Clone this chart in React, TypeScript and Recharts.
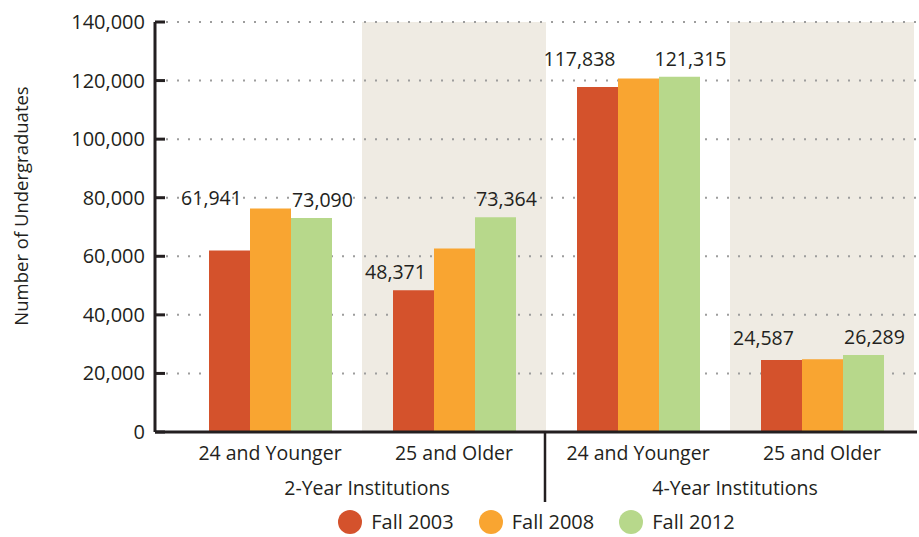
import React from "react";
import {
  BarChart,
  Bar,
  XAxis,
  YAxis,
  CartesianGrid,
  ReferenceArea,
  LabelList,
} from "recharts";

const institutionGroups = ["2-Year Institutions", "4-Year Institutions"];
const ageGroups = ["24 and Younger", "25 and Older"];
const seriesNames = ["Fall 2003", "Fall 2008", "Fall 2012"];
const fall2003 = [61941, 48371, 117838, 24587];
const fall2008 = [76300, 62700, 120700, 24800];
const fall2012 = [73090, 73364, 121315, 26289];
const yTicks = [0, 20000, 40000, 60000, 80000, 100000, 120000, 140000];

const COLORS = ["#d4522c", "#f9a531", "#b7d88b"];
const SHADE = "#efebe3";
const INK = "#231f20";
const FONT = '"Open Sans", "Noto Sans", sans-serif';
// hand nudges so the red labels sit where the original put them
const redLabelLift = [34, 0, 10, 4];

const data = institutionGroups.flatMap((group, gi) =>
  ageGroups.map((age, ai) => {
    const i = gi * 2 + ai;
    return {
      key: `${group}|${age}`,
      group,
      age,
      groupIndex: gi,
      ageIndex: ai,
      f2003: fall2003[i],
      f2008: fall2008[i],
      f2012: fall2012[i],
    };
  })
);

const fmt = (v: number) => v.toLocaleString("en-US");

function YTick(props: any) {
  const { x, y, payload } = props;
  return (
    <g>
      <line x1={x} x2={x + 10} y1={y} y2={y} stroke={INK} strokeWidth={3} />
      <text x={x - 10} y={y} dy="0.35em" textAnchor="end" fontSize={20} fill={INK}>
        {fmt(payload.value)}
      </text>
    </g>
  );
}

function XTick(props: any) {
  const { x, y, payload } = props;
  const row = data.find((d) => d.key === payload.value);
  if (!row) return null;
  const half = payload.offset || 92;
  return (
    <g>
      <text x={x} y={y + 21} dy="0.35em" textAnchor="middle" fontSize={19.5} fill={INK}>
        {row.age}
      </text>
      {row.ageIndex === 0 && (
        <text x={x + half + 5} y={y + 56} dy="0.35em" textAnchor="middle" fontSize={19.5} fill={INK}>
          {row.group}
        </text>
      )}
      {row.ageIndex === 0 && row.groupIndex > 0 && (
        <line x1={x - half - 1} x2={x - half - 1} y1={y} y2={y + 70} stroke={INK} strokeWidth={2.5} />
      )}
    </g>
  );
}

const makeLabel = (dx: number, lift: number[] | null) => (props: any) => {
  const { x, y, width, value, index } = props;
  const extra = lift ? lift[index] : 0;
  return (
    <text
      x={x + width / 2 + dx}
      y={y - 18 - extra}
      dy="0.35em"
      textAnchor="middle"
      fontSize={19.5}
      fill={INK}
    >
      {fmt(value)}
    </text>
  );
};

export default function App() {
  return (
    <div style={{ position: "absolute", left: 0, top: 0, width: 919, height: 537, fontFamily: FONT, background: "#fff" }}>
      <BarChart
        width={919}
        height={537}
        data={data}
        margin={{ top: 22, right: 2, left: 0, bottom: 25 }}
        barGap={0}
      >
        {data
          .filter((d) => d.ageIndex === 1)
          .map((d) => (
            <ReferenceArea
              key={d.key}
              x1={d.key}
              x2={d.key}
              y1={0}
              y2={140000}
              fill={SHADE}
              fillOpacity={1}
              stroke="none"
              ifOverflow="visible"
              zIndex={-150}
            />
          ))}
        <CartesianGrid
          vertical={false}
          stroke="#9d9d9d"
          strokeWidth={2}
          strokeDasharray="2 9"
        />
        <XAxis
          dataKey="key"
          interval={0}
          tick={<XTick />}
          tickLine={false}
          tickSize={0}
          tickMargin={0}
          height={80}
          padding={{ left: 23, right: 3 }}
          axisLine={{ stroke: INK, strokeWidth: 3 }}
        />
        <YAxis
          width={155}
          domain={[0, 140000]}
          ticks={yTicks}
          interval={0}
          tick={<YTick />}
          tickLine={false}
          tickSize={0}
          tickMargin={0}
          axisLine={{ stroke: INK, strokeWidth: 3 }}
          label={{
            content: (p: any) => {
              const vb = p.viewBox || { x: 0, y: 22 };
              const cx = vb.x + 22;
              const cy = vb.y + 184;
              return (
                <text
                  x={cx}
                  y={cy}
                  transform={`rotate(-90 ${cx} ${cy})`}
                  textAnchor="middle"
                  dy="0.35em"
                  fontSize={18.5}
                  fill={INK}
                >
                  Number of Undergraduates
                </text>
              );
            },
          }}
        />
        <Bar dataKey="f2003" name={seriesNames[0]} fill={COLORS[0]} barSize={41} isAnimationActive={false}>
          <LabelList dataKey="f2003" content={makeLabel(-18, redLabelLift)} />
        </Bar>
        <Bar dataKey="f2008" name={seriesNames[1]} fill={COLORS[1]} barSize={41} isAnimationActive={false} />
        <Bar dataKey="f2012" name={seriesNames[2]} fill={COLORS[2]} barSize={41} isAnimationActive={false}>
          <LabelList dataKey="f2012" content={makeLabel(11, null)} />
        </Bar>
      </BarChart>
      <div
        style={{
          position: "absolute",
          left: 155,
          width: 763,
          top: 510,
          height: 24,
          display: "flex",
          justifyContent: "center",
          alignItems: "center",
          gap: 25,
          color: INK,
          fontSize: 20,
        }}
      >
        {seriesNames.map((name, i) => (
          <div key={name} style={{ display: "flex", alignItems: "center", gap: 9 }}>
            <span
              style={{
                width: 24,
                height: 24,
                borderRadius: "50%",
                background: COLORS[i],
                display: "inline-block",
              }}
            />
            <span style={{ lineHeight: "24px" }}>{name}</span>
          </div>
        ))}
      </div>
    </div>
  );
}
